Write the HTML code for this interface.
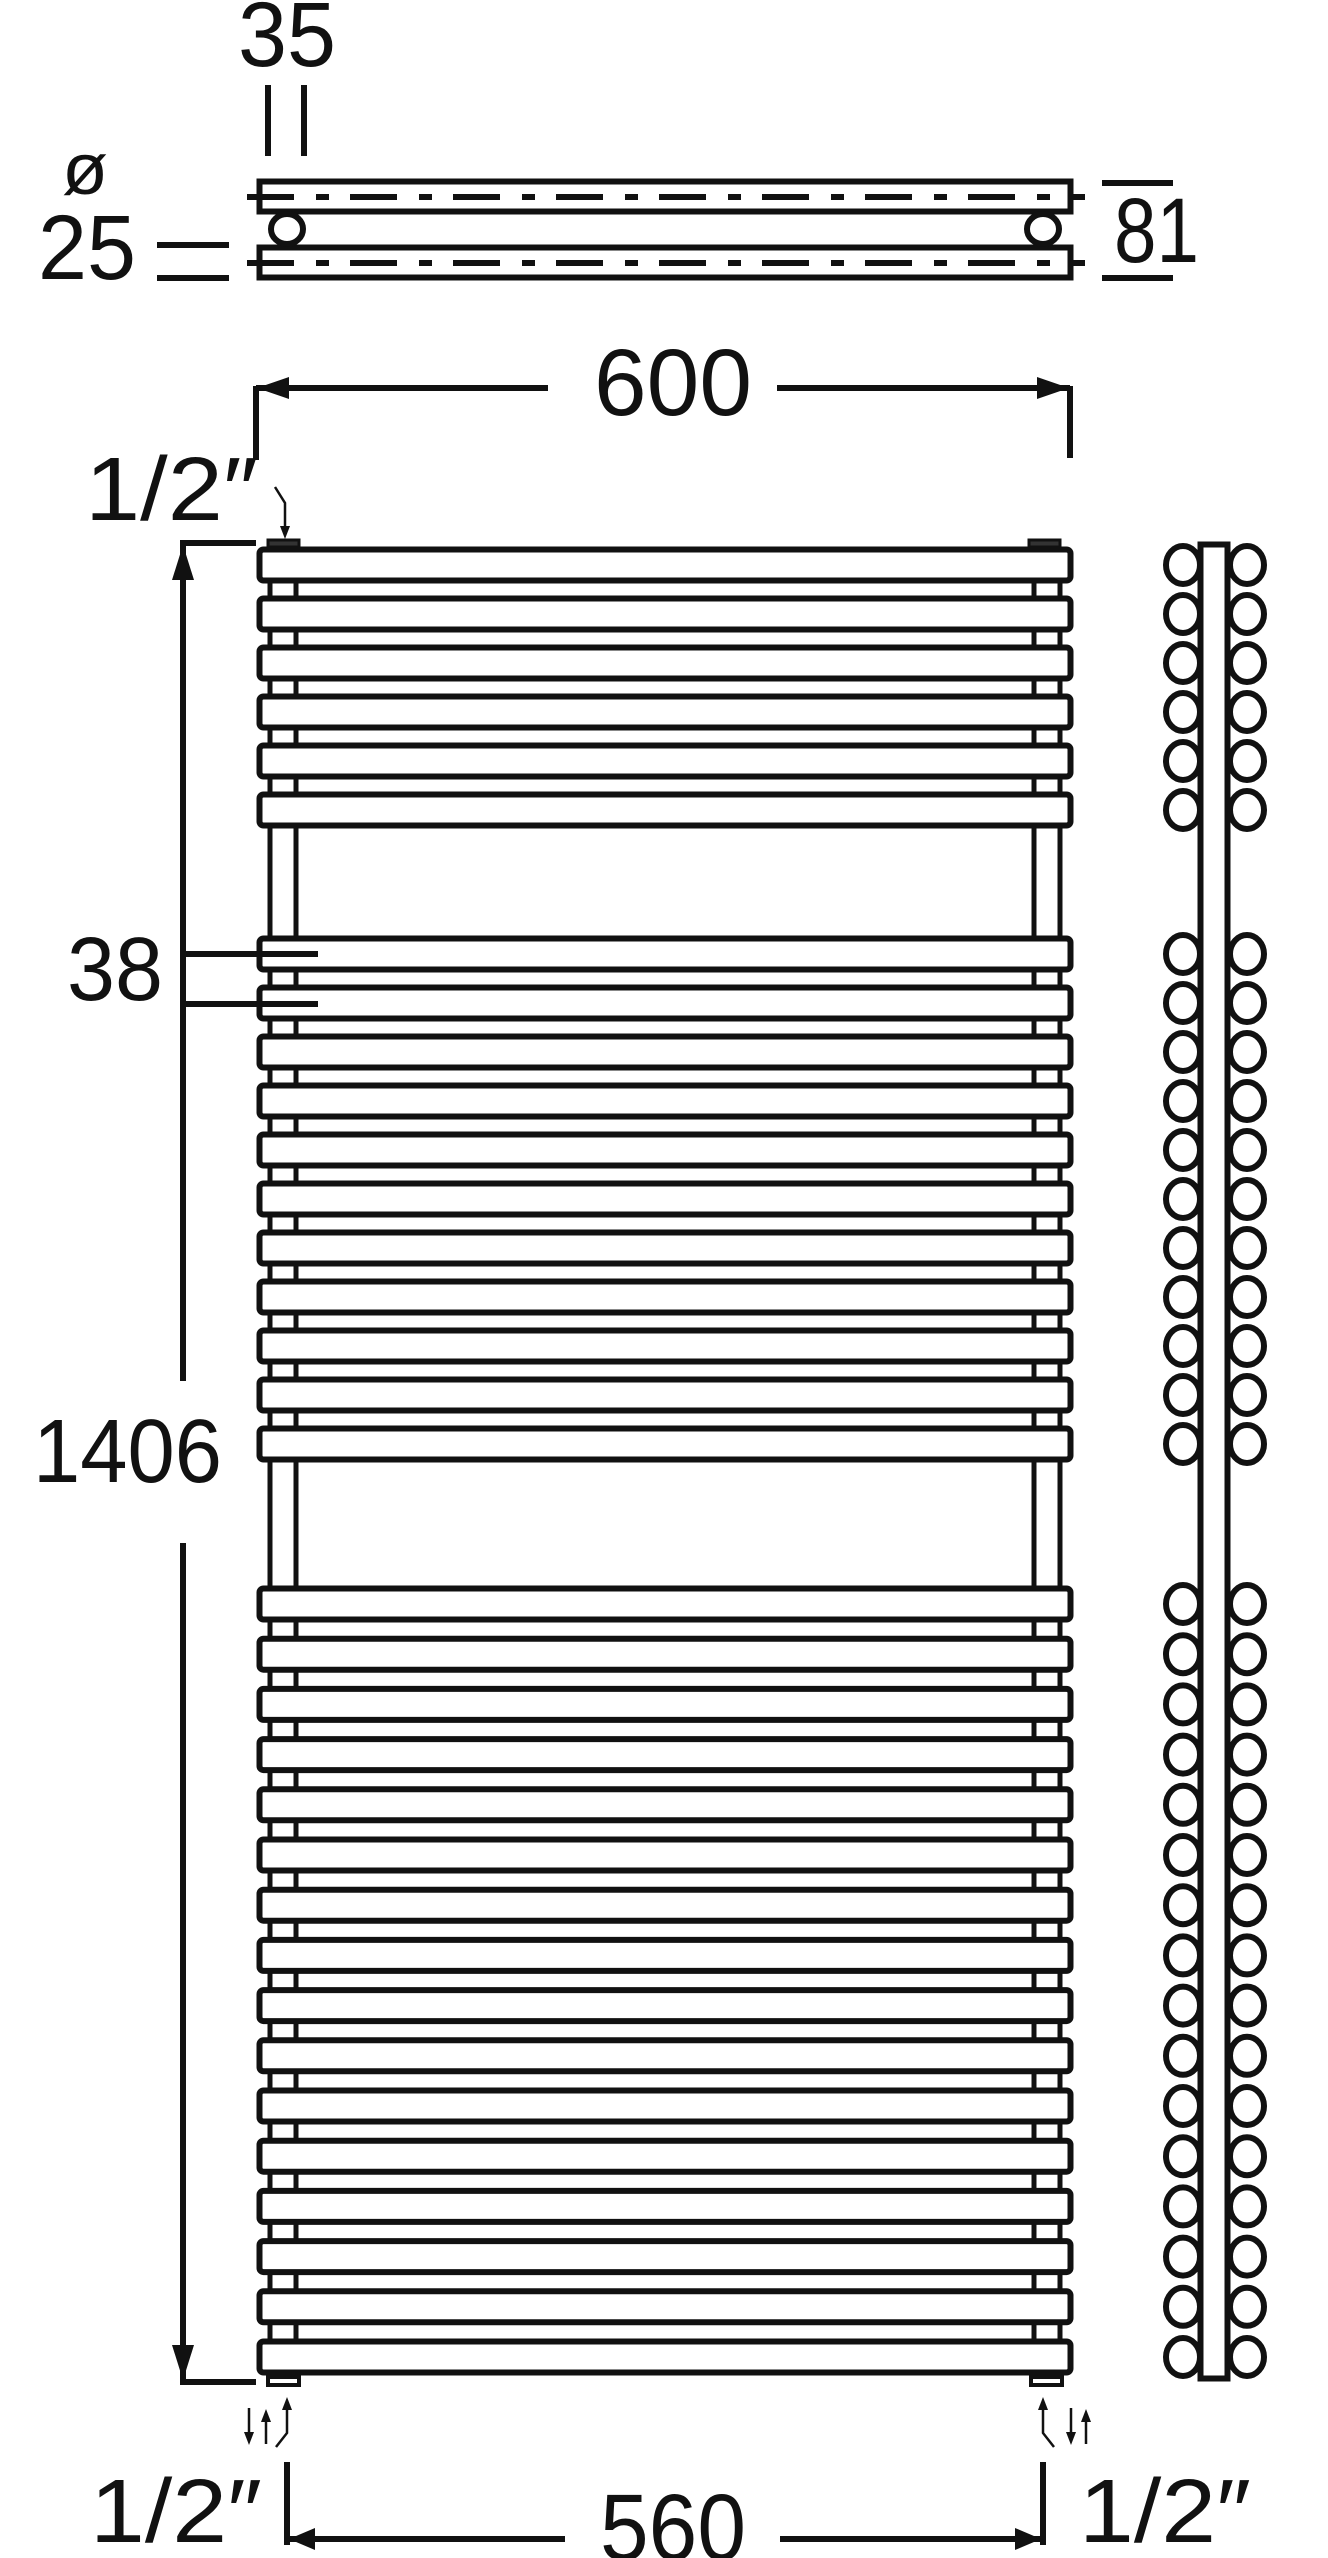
<!DOCTYPE html>
<html><head><meta charset="utf-8"><style>
html,body{margin:0;padding:0;background:#fff}
svg{display:block}
text{font-family:"Liberation Sans",sans-serif;fill:#111}
</style></head><body>
<svg width="1328" height="2558" viewBox="0 0 1328 2558" xmlns="http://www.w3.org/2000/svg">
<rect width="1328" height="2558" fill="#fff"/>
<g stroke="#111" fill="none" stroke-width="6">
<!-- top view -->
<line x1="268" y1="85" x2="268" y2="156"/>
<line x1="304" y1="85" x2="304" y2="156"/>
<line x1="157" y1="245" x2="229" y2="245"/>
<line x1="157" y1="278" x2="229" y2="278"/>
<rect x="259.5" y="181.5" width="811" height="30" fill="#fff"/>
<rect x="259.5" y="247.5" width="811" height="30" fill="#fff"/>
<line x1="247" y1="197" x2="1085" y2="197" stroke-dasharray="47 22 13 21"/>
<line x1="247" y1="263" x2="1085" y2="263" stroke-dasharray="47 22 13 21"/>
<ellipse cx="287" cy="229" rx="16" ry="15" fill="#fff"/>
<ellipse cx="1043" cy="229" rx="16" ry="15" fill="#fff"/>
<line x1="1102" y1="183" x2="1173" y2="183"/>
<line x1="1102" y1="278" x2="1173" y2="278"/>
<!-- 600 -->
<line x1="256" y1="388" x2="548" y2="388"/>
<line x1="777" y1="388" x2="1070" y2="388"/>
<line x1="256" y1="386" x2="256" y2="460"/>
<line x1="1070" y1="386" x2="1070" y2="458"/>
<!-- posts -->
<g stroke-width="5">
<line x1="270" y1="548" x2="270" y2="2380"/><line x1="296" y1="548" x2="296" y2="2380"/>
<line x1="1034" y1="548" x2="1034" y2="2380"/><line x1="1060" y1="548" x2="1060" y2="2380"/>
</g>
<!-- connectors -->
<rect x="268" y="540" width="31" height="7" fill="#333" stroke-width="3"/>
<rect x="1029" y="540" width="31" height="7" fill="#333" stroke-width="3"/>
<rect x="268" y="2377" width="31" height="8" fill="#fff" stroke-width="4"/>
<rect x="1031" y="2377" width="31" height="8" fill="#fff" stroke-width="4"/>
<!-- bars -->
<g fill="#fff">
<rect x="259.5" y="549.5" width="811" height="31" rx="4"/>
<rect x="259.5" y="598.5" width="811" height="31" rx="4"/>
<rect x="259.5" y="647.5" width="811" height="31" rx="4"/>
<rect x="259.5" y="696.5" width="811" height="31" rx="4"/>
<rect x="259.5" y="745.5" width="811" height="31" rx="4"/>
<rect x="259.5" y="794.5" width="811" height="31" rx="4"/>
<rect x="259.5" y="938.5" width="811" height="31" rx="4"/>
<rect x="259.5" y="987.5" width="811" height="31" rx="4"/>
<rect x="259.5" y="1036.5" width="811" height="31" rx="4"/>
<rect x="259.5" y="1085.5" width="811" height="31" rx="4"/>
<rect x="259.5" y="1134.5" width="811" height="31" rx="4"/>
<rect x="259.5" y="1183.5" width="811" height="31" rx="4"/>
<rect x="259.5" y="1232.5" width="811" height="31" rx="4"/>
<rect x="259.5" y="1281.5" width="811" height="31" rx="4"/>
<rect x="259.5" y="1330.5" width="811" height="31" rx="4"/>
<rect x="259.5" y="1379.5" width="811" height="31" rx="4"/>
<rect x="259.5" y="1428.5" width="811" height="31" rx="4"/>
<rect x="259.5" y="1588.5" width="811" height="31" rx="4"/>
<rect x="259.5" y="1638.7" width="811" height="31" rx="4"/>
<rect x="259.5" y="1688.9" width="811" height="31" rx="4"/>
<rect x="259.5" y="1739.1" width="811" height="31" rx="4"/>
<rect x="259.5" y="1789.3" width="811" height="31" rx="4"/>
<rect x="259.5" y="1839.5" width="811" height="31" rx="4"/>
<rect x="259.5" y="1889.7" width="811" height="31" rx="4"/>
<rect x="259.5" y="1939.9" width="811" height="31" rx="4"/>
<rect x="259.5" y="1990.1" width="811" height="31" rx="4"/>
<rect x="259.5" y="2040.3" width="811" height="31" rx="4"/>
<rect x="259.5" y="2090.5" width="811" height="31" rx="4"/>
<rect x="259.5" y="2140.7" width="811" height="31" rx="4"/>
<rect x="259.5" y="2190.9" width="811" height="31" rx="4"/>
<rect x="259.5" y="2241.1" width="811" height="31" rx="4"/>
<rect x="259.5" y="2291.3" width="811" height="31" rx="4"/>
<rect x="259.5" y="2341.5" width="811" height="31" rx="4"/>
</g>
<!-- side view -->
<rect x="1200.5" y="544.5" width="27" height="1834" fill="#fff"/>
<g>
<ellipse cx="1183" cy="565" rx="17" ry="19"/><ellipse cx="1247" cy="565" rx="17" ry="19"/>
<ellipse cx="1183" cy="614" rx="17" ry="19"/><ellipse cx="1247" cy="614" rx="17" ry="19"/>
<ellipse cx="1183" cy="663" rx="17" ry="19"/><ellipse cx="1247" cy="663" rx="17" ry="19"/>
<ellipse cx="1183" cy="712" rx="17" ry="19"/><ellipse cx="1247" cy="712" rx="17" ry="19"/>
<ellipse cx="1183" cy="761" rx="17" ry="19"/><ellipse cx="1247" cy="761" rx="17" ry="19"/>
<ellipse cx="1183" cy="810" rx="17" ry="19"/><ellipse cx="1247" cy="810" rx="17" ry="19"/>
</g>
<g>
<ellipse cx="1183" cy="954" rx="17" ry="19"/><ellipse cx="1247" cy="954" rx="17" ry="19"/>
<ellipse cx="1183" cy="1003" rx="17" ry="19"/><ellipse cx="1247" cy="1003" rx="17" ry="19"/>
<ellipse cx="1183" cy="1052" rx="17" ry="19"/><ellipse cx="1247" cy="1052" rx="17" ry="19"/>
<ellipse cx="1183" cy="1101" rx="17" ry="19"/><ellipse cx="1247" cy="1101" rx="17" ry="19"/>
<ellipse cx="1183" cy="1150" rx="17" ry="19"/><ellipse cx="1247" cy="1150" rx="17" ry="19"/>
<ellipse cx="1183" cy="1199" rx="17" ry="19"/><ellipse cx="1247" cy="1199" rx="17" ry="19"/>
<ellipse cx="1183" cy="1248" rx="17" ry="19"/><ellipse cx="1247" cy="1248" rx="17" ry="19"/>
<ellipse cx="1183" cy="1297" rx="17" ry="19"/><ellipse cx="1247" cy="1297" rx="17" ry="19"/>
<ellipse cx="1183" cy="1346" rx="17" ry="19"/><ellipse cx="1247" cy="1346" rx="17" ry="19"/>
<ellipse cx="1183" cy="1395" rx="17" ry="19"/><ellipse cx="1247" cy="1395" rx="17" ry="19"/>
<ellipse cx="1183" cy="1444" rx="17" ry="19"/><ellipse cx="1247" cy="1444" rx="17" ry="19"/>
</g>
<g>
<ellipse cx="1183" cy="1604" rx="17" ry="19"/><ellipse cx="1247" cy="1604" rx="17" ry="19"/>
<ellipse cx="1183" cy="1654.2" rx="17" ry="19"/><ellipse cx="1247" cy="1654.2" rx="17" ry="19"/>
<ellipse cx="1183" cy="1704.4" rx="17" ry="19"/><ellipse cx="1247" cy="1704.4" rx="17" ry="19"/>
<ellipse cx="1183" cy="1754.6" rx="17" ry="19"/><ellipse cx="1247" cy="1754.6" rx="17" ry="19"/>
<ellipse cx="1183" cy="1804.8" rx="17" ry="19"/><ellipse cx="1247" cy="1804.8" rx="17" ry="19"/>
<ellipse cx="1183" cy="1855" rx="17" ry="19"/><ellipse cx="1247" cy="1855" rx="17" ry="19"/>
<ellipse cx="1183" cy="1905.2" rx="17" ry="19"/><ellipse cx="1247" cy="1905.2" rx="17" ry="19"/>
<ellipse cx="1183" cy="1955.4" rx="17" ry="19"/><ellipse cx="1247" cy="1955.4" rx="17" ry="19"/>
<ellipse cx="1183" cy="2005.6" rx="17" ry="19"/><ellipse cx="1247" cy="2005.6" rx="17" ry="19"/>
<ellipse cx="1183" cy="2055.8" rx="17" ry="19"/><ellipse cx="1247" cy="2055.8" rx="17" ry="19"/>
<ellipse cx="1183" cy="2106" rx="17" ry="19"/><ellipse cx="1247" cy="2106" rx="17" ry="19"/>
<ellipse cx="1183" cy="2156.2" rx="17" ry="19"/><ellipse cx="1247" cy="2156.2" rx="17" ry="19"/>
<ellipse cx="1183" cy="2206.4" rx="17" ry="19"/><ellipse cx="1247" cy="2206.4" rx="17" ry="19"/>
<ellipse cx="1183" cy="2256.6" rx="17" ry="19"/><ellipse cx="1247" cy="2256.6" rx="17" ry="19"/>
<ellipse cx="1183" cy="2306.8" rx="17" ry="19"/><ellipse cx="1247" cy="2306.8" rx="17" ry="19"/>
<ellipse cx="1183" cy="2357" rx="17" ry="19"/><ellipse cx="1247" cy="2357" rx="17" ry="19"/>
</g>
<!-- 1406 dimension -->
<polyline points="256,543 183,543 183,1381"/>
<polyline points="183,1543 183,2382 256,2382"/>
<line x1="183" y1="954" x2="318" y2="954"/>
<line x1="183" y1="1004" x2="318" y2="1004"/>
<!-- small arrows -->
<g stroke-width="2.5">
<polyline points="275,487 285,503 285,530"/>
<line x1="249" y1="2408" x2="249" y2="2436"/>
<line x1="266" y1="2444" x2="266" y2="2418"/>
<polyline points="276,2447 287,2433 287,2406"/>
<polyline points="1054,2447 1043,2433 1043,2406"/>
<line x1="1071" y1="2408" x2="1071" y2="2436"/>
<line x1="1086" y1="2444" x2="1086" y2="2418"/>
</g>
<!-- 560 -->
<line x1="287" y1="2462" x2="287" y2="2545"/>
<line x1="1043" y1="2462" x2="1043" y2="2545"/>
<line x1="289" y1="2539" x2="565" y2="2539"/>
<line x1="780" y1="2539" x2="1041" y2="2539"/>
</g>
<g fill="#111">
<polygon points="257,388 289,377 289,399"/>
<polygon points="1069,388 1037,377 1037,399"/>
<polygon points="183,545 172,580 194,580"/>
<polygon points="183,2380 172,2345 194,2345"/>
<polygon points="285,539 280,526 290,526"/>
<polygon points="249,2445 244,2432 254,2432"/>
<polygon points="266,2409 261,2422 271,2422"/>
<polygon points="287,2397 282,2410 292,2410"/>
<polygon points="1043,2397 1038,2410 1048,2410"/>
<polygon points="1071,2445 1066,2432 1076,2432"/>
<polygon points="1086,2409 1081,2422 1091,2422"/>
<polygon points="289,2539 315,2528 315,2550"/>
<polygon points="1041,2539 1015,2528 1015,2550"/>
</g>
<!-- labels -->
<text x="238" y="66" font-size="92" textLength="98" lengthAdjust="spacingAndGlyphs">35</text>
<text x="62" y="194" font-size="72" textLength="46" lengthAdjust="spacingAndGlyphs">ø</text>
<text x="38" y="279" font-size="92" textLength="98" lengthAdjust="spacingAndGlyphs">25</text>
<text x="1114" y="262" font-size="92" textLength="85" lengthAdjust="spacingAndGlyphs">81</text>
<text x="594" y="415" font-size="95" textLength="158" lengthAdjust="spacingAndGlyphs">600</text>
<text x="85" y="520" font-size="90" textLength="173" lengthAdjust="spacingAndGlyphs">1/2″</text>
<text x="67" y="1000" font-size="90" textLength="96" lengthAdjust="spacingAndGlyphs">38</text>
<text x="33" y="1482" font-size="90" textLength="189" lengthAdjust="spacingAndGlyphs">1406</text>
<text x="90" y="2542" font-size="90" textLength="172" lengthAdjust="spacingAndGlyphs">1/2″</text>
<text x="1079" y="2542" font-size="90" textLength="172" lengthAdjust="spacingAndGlyphs">1/2″</text>
<text x="600" y="2560" font-size="95" textLength="146" lengthAdjust="spacingAndGlyphs">560</text>
</svg>
</body></html>
